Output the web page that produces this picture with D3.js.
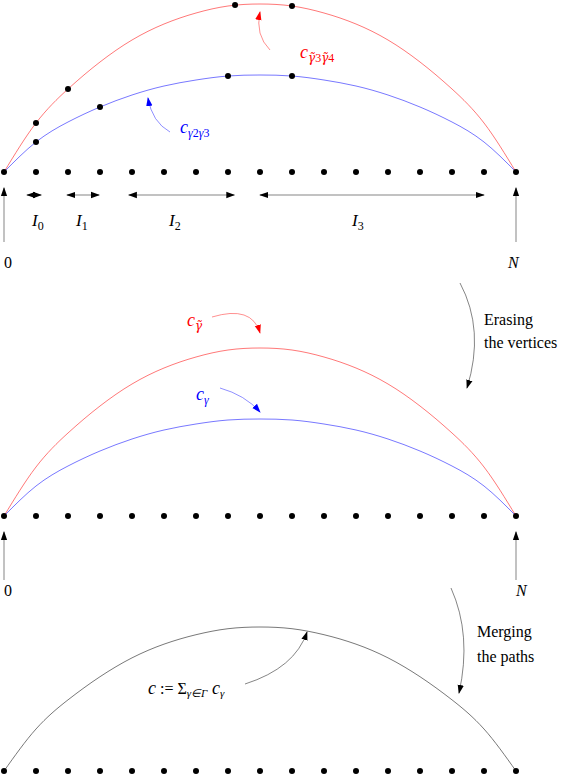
<!DOCTYPE html>
<html><head><meta charset="utf-8">
<script src="https://cdn.jsdelivr.net/npm/d3@7"></script>
<style>body{margin:0;background:#fff}text{font-family:"Liberation Serif",serif;font-size:16px}</style>
</head><body>
<svg id="c" width="564" height="776"></svg>
<script>
// lattice 0..N, 17 vertices
var ticks = d3.range(17);
var rowBase = [172, 516, 771];
// curve heights above the base at each vertex index 0..16
var redHeights = [0,49,83,110,132,148,159,166,168,166,159,148,132,110,83,49,0];
var blueHeights = [0,30,50,65,77,86,92,96,97,96,92,86,77,65,50,30,0];
var blackScale = 144 / 168;
// vertices on the top curves: [vertex index, height]
var redVerts = [[1,49],[2,83],[7.22,167],[9,166]];
var blueVerts = [[1,30],[3,65],[7,96],[9,96]];
// intervals [from, to] in vertex units
var intervals = [[0.72,1.16,"0"],[1.97,2.97,"1"],[3.9,7.2,"2"],[8,15,"3"]];
var labelX = [38, 82, 175, 358];

var svg = d3.select("#c");
var x = d3.scaleLinear().domain([0,16]).range([4,516]);
function mk(id, col){
  svg.append("defs").append("marker").attr("id",id).attr("viewBox","0 0 10 10")
    .attr("refX",9).attr("refY",5).attr("markerWidth",9).attr("markerHeight",9)
    .attr("markerUnits","userSpaceOnUse").attr("orient","auto-start-reverse")
    .append("path").attr("d","M0,1.5L10,5L0,8.5Z").attr("fill",col);
}
mk("ak","#000"); mk("ar","#f00"); mk("ab","#00f");

function curve(hs, base, col, s){
  s = s || 1;
  var line = d3.line().x((d,i)=>x(i)).y(d=>base - d*s).curve(d3.curveNatural);
  svg.append("path").attr("d",line(hs)).attr("fill","none").attr("stroke",col).attr("stroke-width",0.8);
}
function dots(base){
  svg.selectAll(null).data(ticks).enter().append("circle")
    .attr("cx",d=>x(d)).attr("cy",base).attr("r",3).attr("fill","#000");
}
function arrow(d, m, col, w){
  svg.append("path").attr("d",d).attr("fill","none").attr("stroke",col).attr("stroke-width",w||0.6)
    .attr("marker-end","url(#"+m+")");
}
function txt(t, xx, yy, col){
  return svg.append("text").attr("x",xx).attr("y",yy).attr("fill",col||"#000").text(t);
}
// main letter with subscript parts; parts: [text, tilde?] ; digits upright
function sub(xx, yy, main, parts, col, size){
  size = size || 18;
  var t = svg.append("text").attr("x",xx).attr("y",yy).attr("fill",col||"#000");
  t.append("tspan").attr("font-style","italic").attr("font-size",size).text(main);
  var first = true;
  parts.forEach(function(p){
    var sp = t.append("tspan").attr("font-size",12)
      .attr("font-family", p[1] ? "DejaVu Serif" : null)
      .attr("font-style", /\d/.test(p[0]) ? "normal" : "italic").text(p[1] ? p[0]+"\u0303" : p[0]);
    if(first){ sp.attr("dy",4); first=false; }
  });
}

// ---- top panel
curve(redHeights, rowBase[0], "#f55");
curve(blueHeights, rowBase[0], "#55f");
dots(rowBase[0]);
svg.selectAll(null).data(redVerts.concat(blueVerts)).enter().append("circle")
  .attr("cx",d=>x(d[0])).attr("cy",d=>rowBase[0]-d[1]).attr("r",3).attr("fill","#000");
arrow("M270,50 Q255,35 260,12","ar","#f44");
sub(300,58,"c",[["γ",1],["3"],["γ",1],["4"]],"#f00");
arrow("M170,132 Q152,122 148,98","ab","#44f");
sub(180,133,"c",[["γ"],["2"],["γ"],["3"]],"#00f");
arrow("M4,242 L4,188","ak","#333");
arrow("M516,242 L516,188","ak","#333");
txt("0",4,268); txt("N",508,268).attr("font-style","italic");
intervals.forEach(function(iv,i){
  svg.append("path").attr("d","M"+x(iv[0])+",195L"+x(iv[1])+",195").attr("stroke","#333").attr("stroke-width",0.6)
    .attr("marker-end","url(#ak)").attr("marker-start","url(#ak)");
  sub(labelX[i]-6,226,"I",[[iv[2]]],"#000",17);
});

// ---- middle panel
curve(redHeights, rowBase[1], "#f55");
curve(blueHeights, rowBase[1], "#55f");
dots(rowBase[1]);
sub(187,326,"c",[["γ",1]],"#f00");
arrow("M212,317 Q252,305 260,333","ar","#f44");
sub(196,400,"c",[["γ"]],"#00f");
arrow("M220,388 Q245,395 260,412","ab","#44f");
arrow("M460,283 Q485,330 467,388","ak","#333");
txt("Erasing",484,325); txt("the vertices",484,348);
arrow("M4,580 L4,532","ak","#333");
arrow("M516,580 L516,532","ak","#333");
txt("0",4,596); txt("N",516,596).attr("font-style","italic");

// ---- bottom panel
curve(redHeights, rowBase[2], "#555", blackScale);
dots(rowBase[2]);
arrow("M451,588 Q472,635 459,693","ak","#333");
txt("Merging",477,637); txt("the paths",477,662);
var ct = svg.append("text").attr("x",148).attr("y",694);
ct.append("tspan").attr("font-style","italic").attr("font-size",18).text("c");
ct.append("tspan").text(" := Σ");
ct.append("tspan").attr("font-size",11).attr("dy",3).attr("font-style","italic").text("γ∈Γ");
ct.append("tspan").attr("dy",-3).attr("font-style","italic").attr("font-size",18).text(" c");
ct.append("tspan").attr("font-size",11).attr("dy",3).attr("font-style","italic").text("γ");
arrow("M245,684 Q295,668 307,632","ak","#333");
</script>
</body></html>
